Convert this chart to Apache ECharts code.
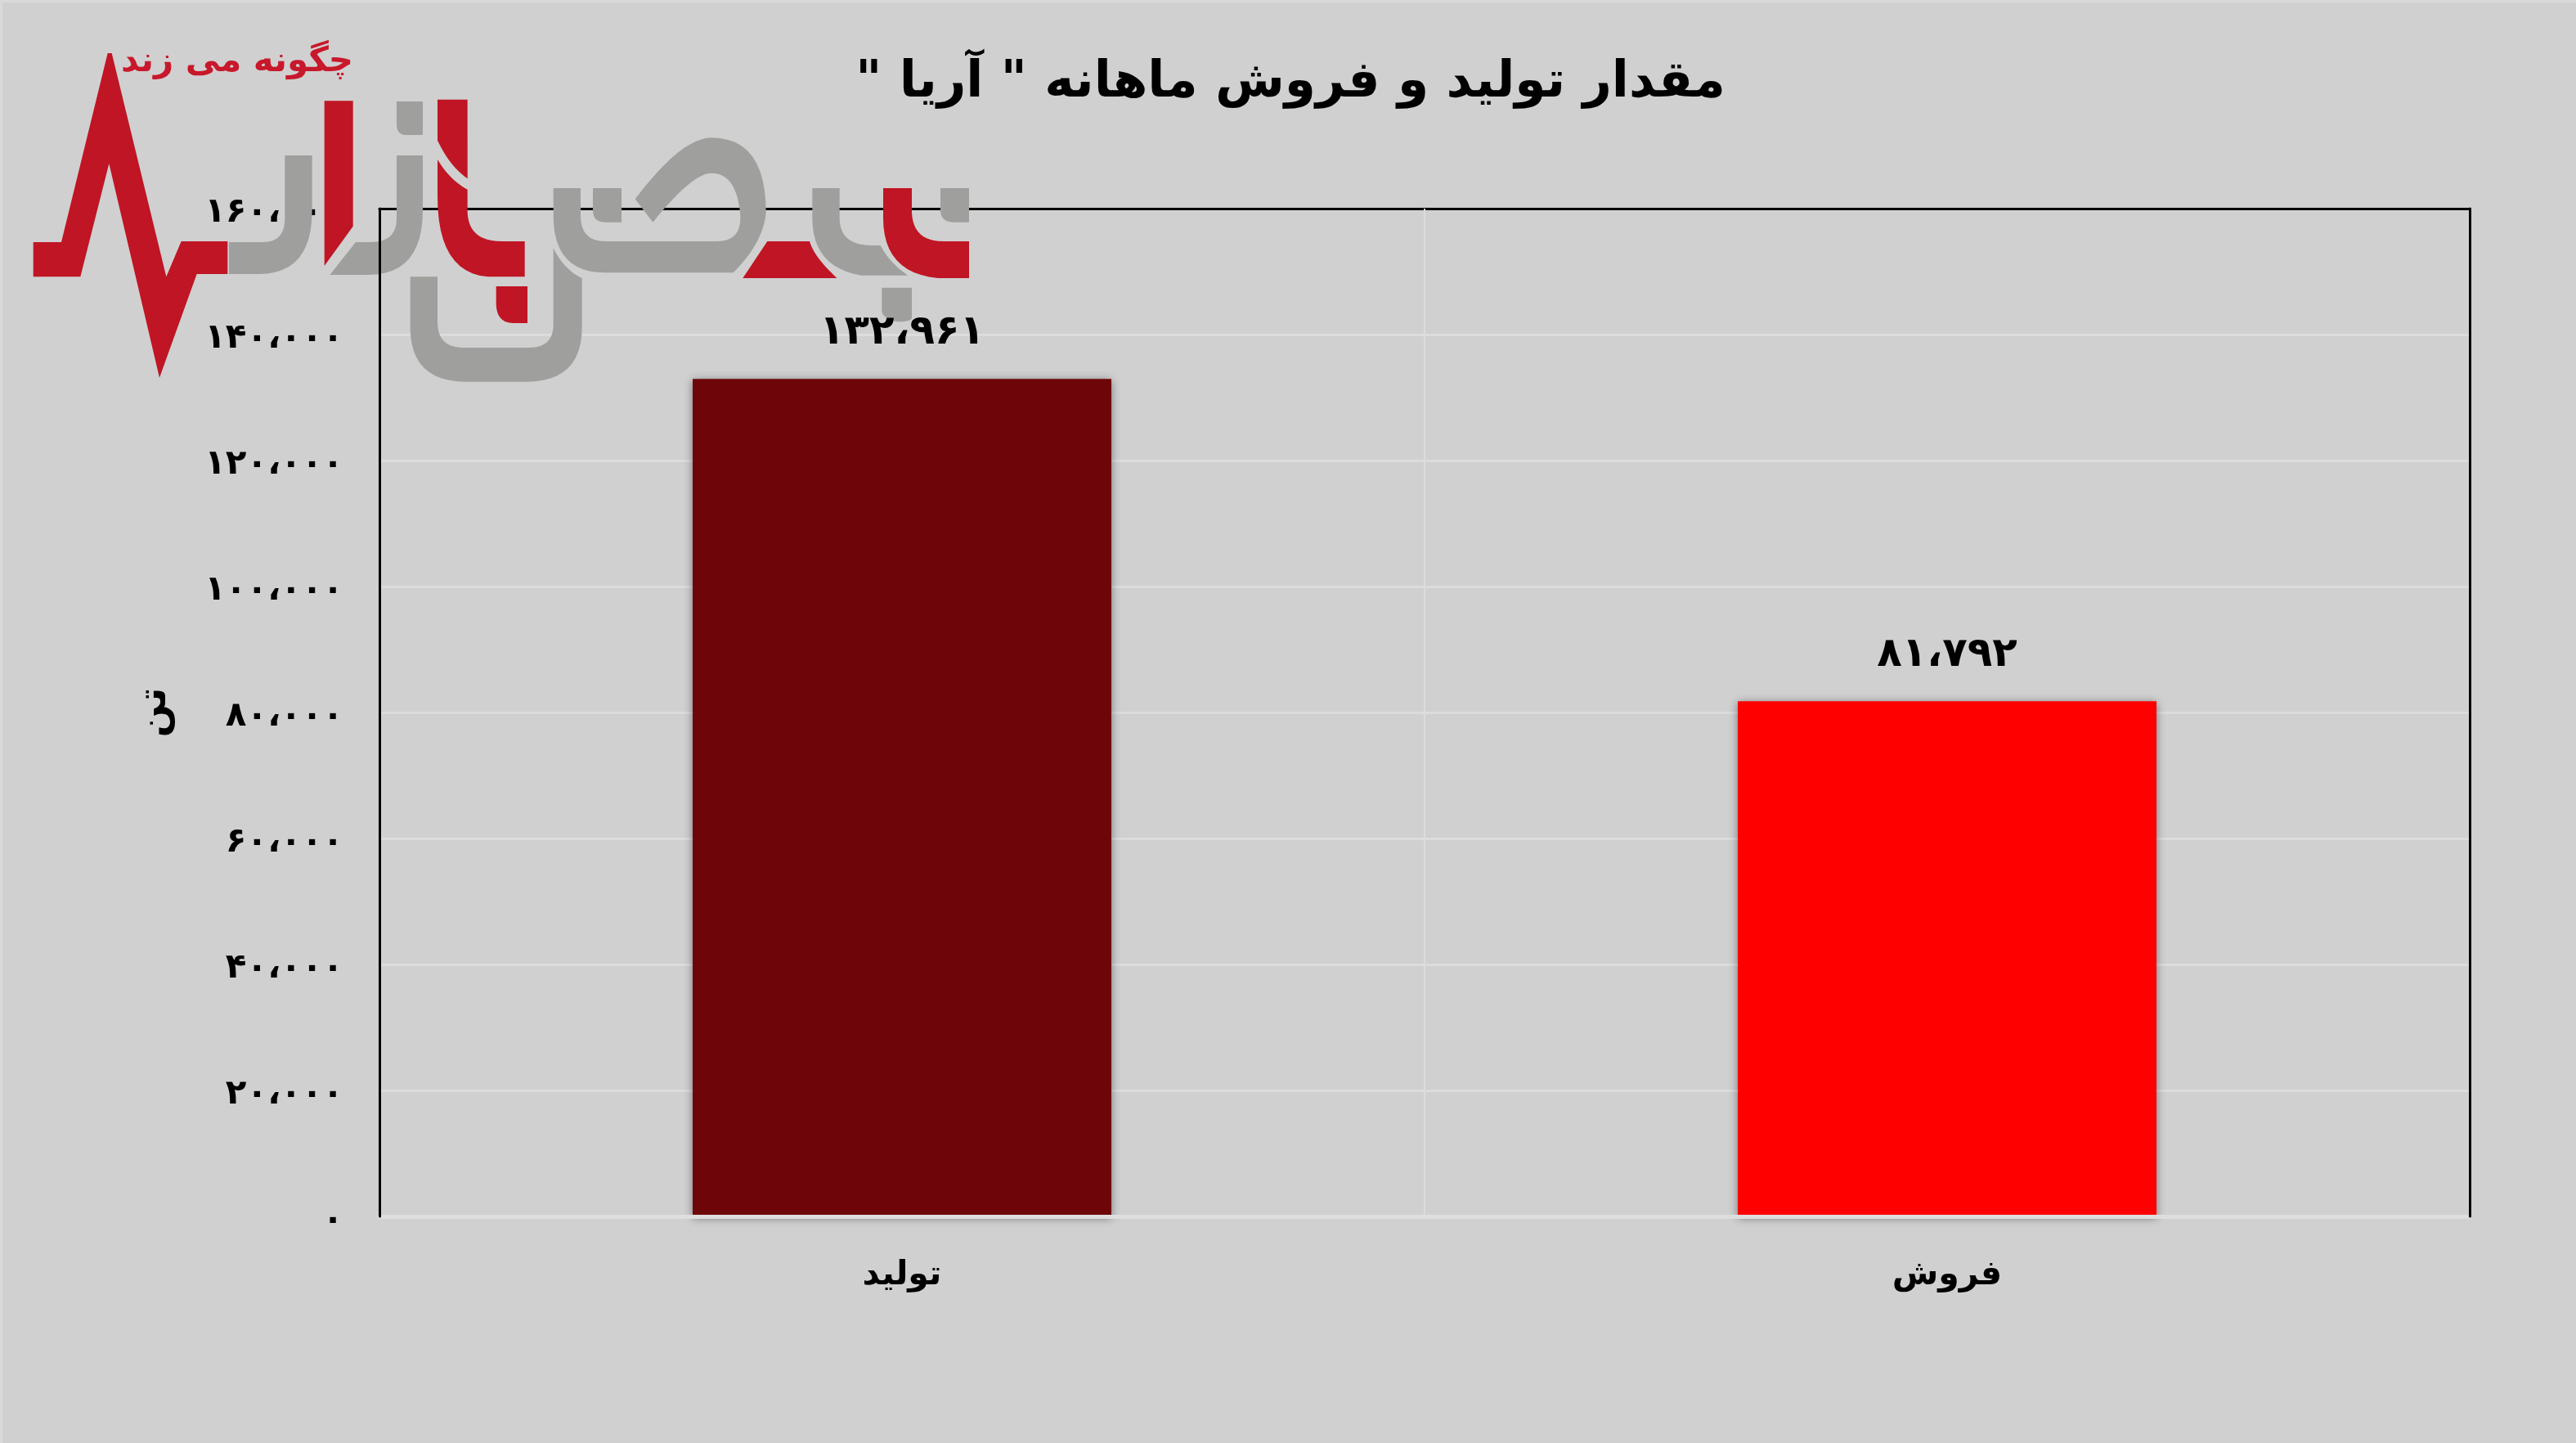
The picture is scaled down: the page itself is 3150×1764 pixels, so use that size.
<!DOCTYPE html>
<html><head><meta charset="utf-8">
<style>html,body{margin:0;padding:0;background:#d0d0d0}#c{width:3150px;height:1764px}</style>
<script src="https://cdn.jsdelivr.net/npm/echarts@6/dist/echarts.min.js"></script>
</head><body><div id="c" dir="rtl"></div>
<script>
const titleText = 'مقدار تولید و فروش ماهانه " آریا "';
const unitName = 'تن';
const logoText = 'چگونه می زند';
const categories = ['تولید', 'فروش'];
const values = [132961, 81792];
const barColors = ['#6e0508', '#ff0000'];
const FONT = '"DejaVu Sans"';
const fa = n => String(n).replace(/\d/g, d => '۰۱۲۳۴۵۶۷۸۹'[d]);
const fmt = n => fa(n.toLocaleString('en-US')).replace(/,/g, '،');
const RED = '#c01524', GRAY = '#9f9f9d';
const LOGO_Z = 2;
function flatten(d){
  const t = d.match(/[MHVLQZ]|-?\d+/g); const pts=[]; let i=0,x=0,y=0,c='';
  while(i<t.length){
    if(/[A-Z]/.test(t[i])) c=t[i++];
    if(c==='Z') continue;
    if(c==='M'||c==='L'){x=+t[i++];y=+t[i++];pts.push([x,y]);}
    else if(c==='H'){x=+t[i++];pts.push([x,y]);}
    else if(c==='V'){y=+t[i++];pts.push([x,y]);}
    else if(c==='Q'){const a=+t[i++],b=+t[i++],e=+t[i++],f=+t[i++];
      for(let k=1;k<=12;k++){const s=k/12,r=1-s;pts.push([r*r*x+2*r*s*a+s*s*e,r*r*y+2*r*s*b+s*s*f]);}
      x=e;y=f;}
  }
  return pts;
}
const piece = (d, color, ox, oy) => ({type:'polygon',z:LOGO_Z,silent:true,x:ox,y:oy,scaleX:1/3,scaleY:1/3,shape:{points:flatten(d)},style:{fill:color}});
const logo = [
  piece('M62 768 H165 L335 75 H350 L550 895 L605 765 H775 V885 H662 L525 1265 L340 480 L235 895 H62 Z',RED,20,40),
  piece('M780 768 H905 Q985 768 985 680 V450 H1085 V650 Q1085 885 890 885 H780 Z',GRAY,20,40),
  piece('M1130 250 H1235 V710 L1130 855 Z',RED,20,40),
  piece('M1150 888 L1245 768 H1300 Q1395 768 1395 680 V450 H1491 V650 Q1491 888 1290 888 Z',GRAY,20,40),
  piece('M1395 252 H1491 V375 H1430 Q1395 375 1395 335 Z',GRAY,20,40),
  piece('M105 65 H215 V355 Q150 310 105 215 Z',RED,500,100),
  piece('M105 285 Q150 360 215 395 V480 Q220 585 340 585 H425 V715 H290 Q105 700 105 420 Z',RED,500,100),
  piece('M320 750 H435 V885 H385 Q320 885 320 810 Z',RED,500,100),
  piece('M5 715 H105 V880 Q105 975 200 975 H440 Q530 975 530 890 V610 Q570 690 635 720 V900 Q635 1100 430 1100 H210 Q5 1100 5 900 Z',GRAY,500,100),
  piece('M530 390 H630 V490 Q630 585 720 585 H1130 Q1225 585 1215 480 Q1200 335 1110 335 Q1040 335 895 515 L830 430 Q1000 205 1110 205 Q1310 205 1310 480 Q1300 590 1190 700 H720 Q530 700 530 490 Z',GRAY,500,100),
  piece('M675 390 H780 V515 H720 Q675 515 675 470 Z',GRAY,500,100),
  piece('M85 480 L175 345 H330 Q345 400 430 480 Z',RED,880,180),
  piece('M340 150 H440 V260 Q440 360 560 360 H590 Q620 420 690 470 H520 Q340 440 340 260 Z',GRAY,880,180),
  piece('M600 150 H705 V240 Q710 345 820 345 H915 V480 H800 Q600 460 600 260 Z',RED,880,180),
  piece('M810 150 H915 V275 H860 Q810 275 810 230 Z',GRAY,880,180),
  piece('M595 515 H705 V625 Q705 640 650 640 Q595 625 595 600 Z',GRAY,880,180),
  {type:'text',z:LOGO_Z,silent:true,x:290,y:76,style:{text:logoText,fill:'#c8182b',font:'bold 42px "DejaVu Sans"',textAlign:'center',textVerticalAlign:'middle'}},
  {type:'rect',z:0,silent:true,shape:{x:0,y:0,width:3150,height:3},style:{fill:'#d9d9d9'}},
  {type:'rect',z:0,silent:true,shape:{x:0,y:0,width:3,height:1764},style:{fill:'#d9d9d9'}}
];
const chart = echarts.init(document.getElementById('c'));
const L = {show:false};
chart.setOption({
  backgroundColor:'#d0d0d0', animation:false,
  title:{text:titleText,left:1573,top:66,textAlign:'center',textStyle:{fontFamily:FONT,fontSize:61.5,fontWeight:'bold',color:'#000'}},
  graphic:logo,
  grid:{left:464,right:130,top:255,bottom:277},
  xAxis:[
    {type:'category',data:categories,position:'bottom',z:4,
     axisLine:{onZero:false,lineStyle:{color:'#dedede',width:5}},axisTick:L,
     axisLabel:{margin:52,fontFamily:FONT,fontSize:41,fontWeight:'bold',color:'#000'},
     splitLine:{show:true,lineStyle:{color:'#dcdcdc',width:2}}},
    {type:'category',data:categories,position:'top',z:1,axisLine:{onZero:false,lineStyle:{color:'#000',width:3}},axisTick:L,axisLabel:L}
  ],
  yAxis:[
    {type:'value',min:0,max:160000,interval:20000,position:'left',z:1,
     name:unitName,nameLocation:'middle',nameGap:250,nameRotate:90,
     nameTextStyle:{fontFamily:FONT,fontSize:48,fontWeight:'bold',color:'#000'},
     axisLine:L,axisTick:L,
     axisLabel:{margin:44,verticalAlign:'top',lineHeight:10,formatter:fmt,fontFamily:FONT,fontSize:42,fontWeight:'bold',color:'#000'},
     splitLine:{show:true,lineStyle:{color:'#dcdcdc',width:3}}},
    {type:'value',min:0,max:160000,interval:20000,position:'left',z:5,axisLine:{show:true,lineStyle:{color:'#000',width:3}},axisTick:L,axisLabel:L,splitLine:L},
    {type:'value',min:0,max:160000,interval:20000,position:'right',z:5,axisLine:{show:true,lineStyle:{color:'#000',width:3}},axisTick:L,axisLabel:L,splitLine:L}
  ],
  series:[{type:'bar',barWidth:512,z:3,
    data:values.map((v,i)=>({value:v,itemStyle:{color:barColors[i],shadowColor:'rgba(0,0,0,0.45)',shadowBlur:10,shadowOffsetY:2}})),
    label:{show:true,position:'top',distance:31,formatter:p=>fmt(p.value),fontFamily:FONT,fontSize:50,fontWeight:'bold',color:'#000'}}]
});
</script></body></html>
